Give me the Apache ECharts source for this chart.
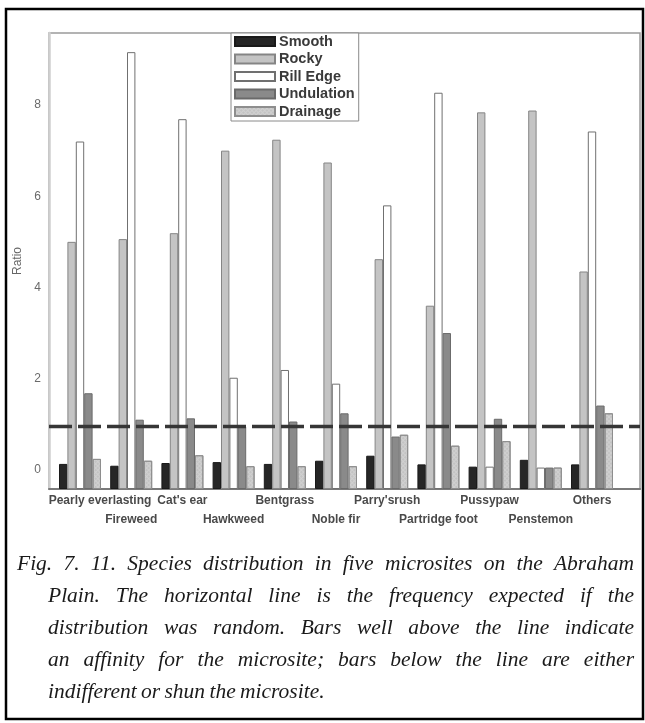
<!DOCTYPE html>
<html>
<head>
<meta charset="utf-8">
<script src="https://cdn.jsdelivr.net/npm/echarts@6/dist/echarts.min.js"></script>
<style>
html,body{margin:0;padding:0;background:#fff;}
#c{width:645px;height:723px;}
</style>
</head>
<body>
<div id="c"></div>
<script>
var categories = ['Pearly everlasting', 'Fireweed', "Cat's ear", 'Hawkweed', 'Bentgrass', 'Noble fir', "Parry'srush", 'Partridge foot', 'Pussypaw', 'Penstemon', 'Others'];
var seriesNames = ['Smooth', 'Rocky', 'Rill Edge', 'Undulation', 'Drainage'];
var smooth     = [0.13, 0.09, 0.15, 0.17, 0.13, 0.20, 0.31, 0.12, 0.07, 0.22, 0.12];
var rocky      = [5.00, 5.06, 5.19, 7.00, 7.24, 6.74, 4.62, 3.60, 7.84, 7.88, 4.35];
var rillEdge   = [7.20, 9.16, 7.69, 2.02, 2.19, 1.89, 5.80, 8.27, 0.07, 0.05, 7.42];
var undulation = [1.68, 1.10, 1.13, 0.95, 1.06, 1.24, 0.73, 3.00, 1.12, 0.05, 1.41];
var drainage   = [0.24, 0.20, 0.32, 0.08, 0.08, 0.08, 0.77, 0.53, 0.63, 0.05, 1.24];
var expected   = 0.95;
var yTicks     = [0, 2, 4, 6, 8];
var yMin = -0.42, yMax = 9.58;

var captionLines = [
  'Fig. 7. 11. Species distribution in five microsites on the Abraham',
  'Plain. The horizontal line is the frequency expected if the',
  'distribution was random. Bars well above the line indicate',
  'an affinity for the microsite; bars below the line are either',
  'indifferent or shun the microsite.'
];

var chart = echarts.init(document.getElementById('c'), null, {renderer: 'canvas'});

// caption layout (justified like the print)
var capFont = 'italic 21.5px "Liberation Serif"';
var ctx = document.createElement('canvas').getContext('2d');
ctx.font = capFont;
var capGraphics = [];
captionLines.forEach(function (line, li) {
  var x0 = li === 0 ? 17 : 48;
  var x1 = 634;
  var y = 564 + li * 32;
  var words = line.split(' ');
  var widths = words.map(function (w) { return ctx.measureText(w).width; });
  var sum = widths.reduce(function (a, b) { return a + b; }, 0);
  var gap = (li === captionLines.length - 1) ? ctx.measureText(' ').width * 0.8 : (x1 - x0 - sum) / (words.length - 1);
  var x = x0;
  words.forEach(function (w, i) {
    capGraphics.push({
      type: 'text', x: x, y: y,
      style: {text: w, font: capFont, fill: '#1a1a1a', textVerticalAlign: 'middle', textAlign: 'left'}
    });
    x += widths[i] + gap;
  });
});

var barStyles = [
  {color: '#262626', borderColor: '#1a1a1a', borderWidth: 1},
  {color: '#c4c4c4', borderColor: '#858585', borderWidth: 1},
  {color: '#ffffff', borderColor: '#707070', borderWidth: 1},
  {color: '#8a8a8a', borderColor: '#6a6a6a', borderWidth: 1},
  {color: '#d0d0d0', borderColor: '#8e8e8e', borderWidth: 1,
   decal: {symbol: 'rect', symbolSize: 0.6, color: 'rgba(110,110,110,0.45)', dashArrayX: [2, 1], dashArrayY: [2, 1], rotation: 0.785}}
];
var seriesData = [smooth, rocky, rillEdge, undulation, drainage];

var series = seriesNames.map(function (n, i) {
  return {
    name: n, type: 'bar', xAxisIndex: 1, yAxisIndex: 1,
    data: seriesData[i],
    barGap: '0%', barCategoryGap: '18%',
    itemStyle: barStyles[i],
    emphasis: {disabled: true},
    z: 3
  };
});
series.push({
  name: 'expected', type: 'line', xAxisIndex: 0, yAxisIndex: 0,
  data: [[0, expected], [1, expected]],
  symbol: 'none',
  lineStyle: {color: '#363636', width: 3.5, type: [23, 6]},
  z: 5, silent: true
});

chart.setOption({
  animation: false,
  backgroundColor: '#fff',
  grid: [
    {left: 49, right: 5, top: 33, bottom: 234, show: true, borderColor: '#9a9a9a', borderWidth: 1.5, backgroundColor: '#fff', z: 0},
    {left: 54.4, right: 27.4, top: 33, bottom: 234}
  ],
  legend: {
    data: seriesNames.map(function (n) { return {name: n, icon: 'rect'}; }),
    orient: 'vertical', left: 231, top: 33,
    itemWidth: 40, itemHeight: 9, itemGap: 2.5,
    padding: [1, 4, 2, 3],
    borderColor: '#8a8a8a', borderWidth: 1, backgroundColor: '#fff',
    textStyle: {fontFamily: 'Liberation Sans', fontSize: 14.5, fontWeight: 'bold', color: '#3a3a3a', padding: [0, 0, 0, -1], lineHeight: 15},
    selectedMode: false,
    z: 10
  },
  xAxis: [
    {type: 'value', gridIndex: 0, min: 0, max: 1, show: true,
     axisLine: {show: true, onZero: false, lineStyle: {color: '#7a7a7a', width: 2}},
     axisTick: {show: false}, axisLabel: {show: false}, splitLine: {show: false}},
    {type: 'category', gridIndex: 1, data: categories,
     axisLine: {show: false}, axisTick: {show: false}, splitLine: {show: false},
     axisLabel: {
       interval: 0, margin: 2, fontFamily: 'Liberation Sans', fontSize: 12, fontWeight: 'bold', color: '#4a4a4a', lineHeight: 19,
       formatter: function (v, i) {
         if (i === 0) return '{first|' + v + '}';
         return i % 2 === 1 ? '\n' + v : v;
       },
       rich: {first: {padding: [0, 0, 0, 40], fontFamily: 'Liberation Sans', fontSize: 12, fontWeight: 'bold', color: '#4a4a4a', lineHeight: 19}}
     }}
  ],
  yAxis: [
    {type: 'value', gridIndex: 0, min: yMin, max: yMax,
     name: 'Ratio', nameLocation: 'middle', nameGap: 22, nameRotate: 90,
     nameTextStyle: {fontFamily: 'Liberation Sans', fontSize: 12, color: '#666'},
     axisLine: {show: true, lineStyle: {color: '#cfcfcf', width: 2.5}}, axisTick: {show: false}, splitLine: {show: false},
     axisLabel: {customValues: yTicks, margin: 8, fontFamily: 'Liberation Sans', fontSize: 12, color: '#6a6a6a'}},
    {type: 'value', gridIndex: 1, min: yMin, max: yMax, startValue: yMin, show: false,
     axisLine: {show: false}, splitLine: {show: false}}
  ],
  series: series,
  graphic: [
    {type: 'rect', shape: {x: 6, y: 9, width: 637, height: 710}, style: {fill: 'none', stroke: '#000', lineWidth: 2.5}, z: 100}
  ].concat(capGraphics)
});
</script>
</body>
</html>
